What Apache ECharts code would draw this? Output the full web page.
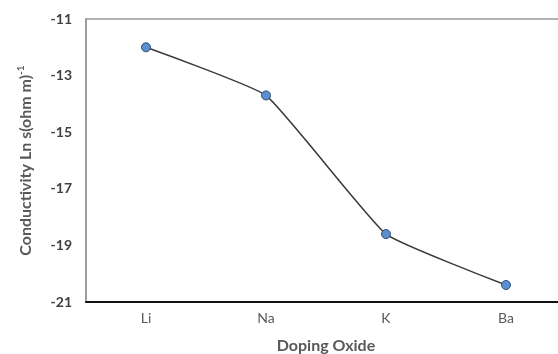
<!DOCTYPE html>
<html>
<head>
<meta charset="utf-8">
<script src="https://cdn.jsdelivr.net/npm/echarts@6/dist/echarts.min.js"></script>
<style>
  html, body { margin: 0; padding: 0; background: #fff; }
  #chart { width: 558px; height: 354px; }
</style>
</head>
<body>
<div id="chart"></div>
<script>
var categories = ['Li', 'Na', 'K', 'Ba'];
var conductivity = [-12.0, -13.7, -18.6, -20.4];
var yMin = -21, yMax = -11, yStep = 2;

var myChart = echarts.init(document.getElementById('chart'));
var option = {
    backgroundColor: '#fff',
    textStyle: {
        fontFamily: 'Lato'
    },
    grid: {
        left: 86,
        top: 19,
        width: 480,
        height: 283,
        outerBoundsMode: 'none',
        show: true,
        borderColor: '#999',
        borderWidth: 1.5,
        backgroundColor: 'transparent'
    },
    xAxis: {
        type: 'category',
        data: categories,
        boundaryGap: true,
        name: 'Doping Oxide',
        nameLocation: 'middle',
        nameGap: 36,
        nameTextStyle: {
            fontSize: 16,
            fontWeight: 'bold',
            color: '#595959'
        },
        axisLine: {
            lineStyle: { color: '#111', width: 2 }
        },
        axisTick: { show: false },
        axisLabel: {
            margin: 9,
            fontSize: 14,
            color: '#595959'
        },
        splitLine: { show: false }
    },
    yAxis: {
        type: 'value',
        min: yMin,
        max: yMax,
        interval: yStep,
        name: 'Conductivity Ln s(ohm m){sup|-1}',
        nameLocation: 'middle',
        nameGap: 51,
        nameTextStyle: {
            fontSize: 16,
            fontWeight: 'bold',
            color: '#595959',
            rich: {
                sup: {
                    fontSize: 10,
                    fontWeight: 'bold',
                    color: '#595959',
                    verticalAlign: 'top',
                    padding: [0, 0, 9, 0]
                }
            }
        },
        axisLine: {
            show: true,
            lineStyle: { color: '#999', width: 1.5 }
        },
        axisTick: { show: false },
        axisLabel: {
            margin: 14,
            fontSize: 14,
            fontWeight: 'bold',
            color: '#404040'
        },
        splitLine: { show: false }
    },
    series: [{
        name: 'Conductivity',
        type: 'line',
        data: conductivity,
        smooth: 0.12,
        symbol: 'circle',
        symbolSize: 9,
        lineStyle: { color: '#3a3a3a', width: 1.5 },
        itemStyle: {
            color: '#5b8fd0',
            borderColor: '#2f4f7a',
            borderWidth: 1
        }
    }]
};
myChart.setOption(option);
</script>
</body>
</html>
